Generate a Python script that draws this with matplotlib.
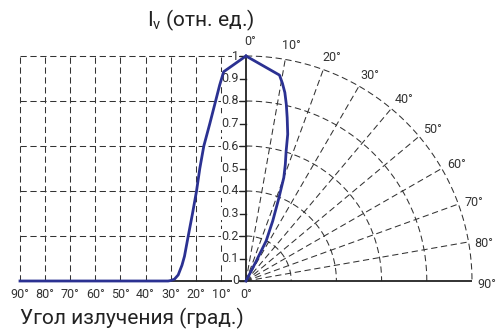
import numpy as np
import matplotlib
matplotlib.use('Agg')
import matplotlib.pyplot as plt

plt.rcParams['font.family'] = ['Roboto', 'DejaVu Sans']
plt.rcParams['mathtext.fontset'] = 'custom'
plt.rcParams['mathtext.rm'] = 'Roboto'
plt.rcParams['mathtext.it'] = 'Roboto'

# ---- data ----
# Cartesian half (left): emission angle (deg) vs relative intensity
cart_angle = [0, 8.9, 10.5, 12.1, 14.4, 16.8, 18.4, 19.7, 21.3, 23.0, 24.5, 25.5, 27.0, 28.5, 30.0, 31.0, 90]
cart_intensity = [1.0, 0.93, 0.87, 0.80, 0.70, 0.60, 0.50, 0.40, 0.30, 0.20, 0.11, 0.07, 0.027, 0.008, 0.002, 0.0, 0.0]

# Polar quadrant (right): angle from the axis (deg) vs relative intensity (radius)
polar_angle = [0, 9.2, 10.4, 11.6, 12.8, 14.1, 15.8, 17.1, 18.6, 20.0, 21.6, 23.9, 26.6, 27.2, 27.5]
polar_radius = [1.0, 0.927, 0.893, 0.855, 0.805, 0.748, 0.678, 0.604, 0.545, 0.489, 0.392, 0.292, 0.199, 0.09, 0.0]

grid_angles = [10, 20, 30, 40, 50, 60, 70, 80, 90]
radial_angles = [10, 20, 30, 40, 50, 60, 70, 80]
arc_radii = [0.2, 0.4, 0.6, 0.8, 1.0]
x_tick_angles = [90, 80, 70, 60, 50, 40, 30, 20, 10, 0]
y_ticks = [0, 0.1, 0.2, 0.3, 0.4, 0.5, 0.6, 0.7, 0.8, 0.9, 1.0]
y_tick_labels = ['0', '0.1', '0.2', '0.3', '0.4', '0.5', '0.6', '0.7', '0.8', '0.9', '1']
polar_label_angles = [0, 10, 20, 30, 40, 50, 60, 70, 80, 90]

title_text = 'I$_\\mathrm{v}$ (отн. ед.)'
xlabel_text = 'Угол излучения (град.)'

# ---- figure ----
W, H = 496, 330
fig = plt.figure(figsize=(W / 100, H / 100), dpi=100)
ax = fig.add_axes([0, 0, 1, 1])
ox, oy, sx, sy = 246, 281, 226, 225
ax.set_xlim(-ox / sx, (W - ox) / sx)
ax.set_ylim(-(H - oy) / sy, oy / sy)
ax.axis('off')

gkw = dict(color='#333333', lw=0.75, ls=(0, (6, 3.5)), zorder=1)

# left grid
for a in grid_angles:
    ax.plot([-a / 90, -a / 90], [0, 1], **gkw)
for r in arc_radii:
    ax.plot([-1, 0], [r, r], **gkw)

# polar grid
t = np.radians(np.linspace(0, 90, 300))
for r in arc_radii:
    ax.plot(r * np.sin(t), r * np.cos(t), **gkw)
for a in radial_angles:
    th = np.radians(a)
    ax.plot([0, np.sin(th)], [0, np.cos(th)], **gkw)

# axes lines
ax.plot([0, 0], [0, 1], color='#222222', lw=1.3, zorder=3, solid_capstyle='butt')
ax.plot([-1, 1], [0, 0], color='#222222', lw=1.3, zorder=3, solid_capstyle='butt')

# y ticks and labels
for v, lab in zip(y_ticks, y_tick_labels):
    ax.plot([-6 / sx, 0], [v, v], color='#222222', lw=1.0, zorder=3)
    ax.text(-7 / sx, v, lab, ha='right', va='center', fontsize=9, color='#333333', zorder=4,
            bbox=dict(facecolor='white', edgecolor='none', pad=0.3))

# x tick labels
for a in x_tick_angles:
    ax.text(-a / 90, -13 / sy, f'{a}°', ha='center', va='center', fontsize=9, color='#333333')

# polar labels
for a in polar_label_angles:
    th = np.radians(a + 0.9)
    ax.text(1.065 * np.sin(th), 1.065 * np.cos(th), f'{a}°', ha='center', va='center',
            fontsize=9, color='#333333')

# curves
curve_color = '#2b3192'
ca = np.array(cart_angle)
ax.plot(-ca / 90, cart_intensity, color=curve_color, lw=2.0, zorder=5, solid_joinstyle='round')
pa = np.radians(polar_angle)
pr = np.array(polar_radius)
ax.plot(pr * np.sin(pa), pr * np.cos(pa), color=curve_color, lw=2.0, zorder=5, solid_joinstyle='round')

# titles
fig.text(201 / W, 1 - 20 / H, title_text, ha='center', va='center', fontsize=15, color='#222222')
fig.text(131.5 / W, 1 - 318 / H, xlabel_text, ha='center', va='center', fontsize=15, color='#222222')

fig.savefig('out.png', dpi=100)
